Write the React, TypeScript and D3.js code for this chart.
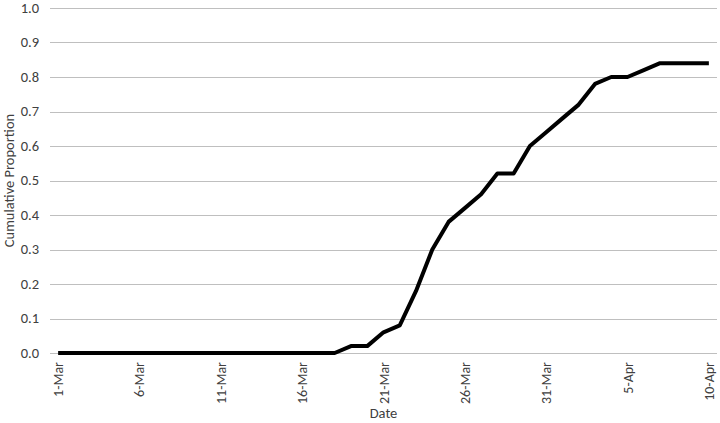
import React, { useRef, useEffect } from "react";
import * as d3 from "d3";

// days from 1-Mar to 10-Apr
const dates: string[] = [
  "1-Mar", "2-Mar", "3-Mar", "4-Mar", "5-Mar", "6-Mar", "7-Mar", "8-Mar", "9-Mar", "10-Mar",
  "11-Mar", "12-Mar", "13-Mar", "14-Mar", "15-Mar", "16-Mar", "17-Mar", "18-Mar", "19-Mar", "20-Mar",
  "21-Mar", "22-Mar", "23-Mar", "24-Mar", "25-Mar", "26-Mar", "27-Mar", "28-Mar", "29-Mar", "30-Mar",
  "31-Mar", "1-Apr", "2-Apr", "3-Apr", "4-Apr", "5-Apr", "6-Apr", "7-Apr", "8-Apr", "9-Apr", "10-Apr",
];

const proportion: number[] = [
  0, 0, 0, 0, 0, 0, 0, 0, 0, 0,
  0, 0, 0, 0, 0, 0, 0, 0, 0.02, 0.02,
  0.06, 0.08, 0.18, 0.30, 0.38, 0.42, 0.46, 0.52, 0.52, 0.60,
  0.64, 0.68, 0.72, 0.78, 0.80, 0.80, 0.82, 0.84, 0.84, 0.84, 0.84,
];

const xTickLabels: string[] = ["1-Mar", "6-Mar", "11-Mar", "16-Mar", "21-Mar", "26-Mar", "31-Mar", "5-Apr", "10-Apr"];
const yTicks: number[] = [0, 0.1, 0.2, 0.3, 0.4, 0.5, 0.6, 0.7, 0.8, 0.9, 1.0];

const App = () => {
  const ref = useRef<SVGSVGElement>(null);

  useEffect(() => {
    const svgWidth = 720;
    const svgHeight = 423;
    const margin = { top: 8, right: 3, bottom: 70, left: 50 };
    const fontColor = "#404040";
    const gridColor = "#bfbfbf";
    const font = "Carlito, 'Liberation Sans', sans-serif";
    const fontSize = "14.5px";

    const svg = d3.select(ref.current)
      .attr("width", svgWidth)
      .attr("height", svgHeight);
    svg.selectAll("*").remove();

    const data = dates.map((d, i) => ({ date: d, value: proportion[i] }));

    // Excel-style category axis: points sit in the middle of each slot
    const xScale = d3.scalePoint<string>()
      .domain(dates)
      .range([margin.left, svgWidth - margin.right])
      .padding(0.5);

    const yScale = d3.scaleLinear()
      .domain([0, 1])
      .range([svgHeight - margin.bottom, margin.top]);

    // grid lines
    svg.append("g")
      .selectAll("line")
      .data(yTicks)
      .join("line")
      .attr("x1", margin.left)
      .attr("x2", svgWidth - margin.right)
      .attr("y1", d => Math.round(yScale(d)) + 0.5)
      .attr("y2", d => Math.round(yScale(d)) + 0.5)
      .attr("stroke", gridColor)
      .attr("stroke-width", 1);

    // Y tick labels
    svg.append("g")
      .selectAll("text")
      .data(yTicks)
      .join("text")
      .attr("x", margin.left - 11)
      .attr("y", d => yScale(d))
      .attr("dy", "0.33em")
      .attr("text-anchor", "end")
      .style("font-family", font)
      .style("font-size", fontSize)
      .style("fill", fontColor)
      .text(d => d3.format(".1f")(d));

    // X tick labels (rotated)
    svg.append("g")
      .selectAll("text")
      .data(xTickLabels)
      .join("text")
      .attr("transform", d => `translate(${xScale(d)! + 5},${svgHeight - margin.bottom + 9}) rotate(-90)`)
      .attr("text-anchor", "end")
      .style("font-family", font)
      .style("font-size", "14px")
      .style("fill", fontColor)
      .text(d => d);

    // axis titles
    svg.append("text")
      .attr("x", (margin.left + svgWidth - margin.right) / 2)
      .attr("y", 418)
      .attr("text-anchor", "middle")
      .style("font-family", font)
      .style("font-size", fontSize)
      .style("fill", fontColor)
      .text("Date");

    svg.append("text")
      .attr("transform", `translate(14,${(margin.top + svgHeight - margin.bottom) / 2}) rotate(-90)`)
      .attr("text-anchor", "middle")
      .style("font-family", font)
      .style("font-size", fontSize)
      .style("fill", fontColor)
      .text("Cumulative Proportion");

    // the line
    const line = d3.line<{ date: string; value: number }>()
      .x(d => xScale(d.date)!)
      .y(d => yScale(d.value));

    svg.append("path")
      .datum(data)
      .attr("fill", "none")
      .attr("stroke", "#000")
      .attr("stroke-width", 4)
      .attr("stroke-linejoin", "round")
      .attr("d", line);
  }, []);

  return (
    <div style={{ position: "absolute", left: 0, top: 0 }}>
      <svg ref={ref} style={{ display: "block" }}></svg>
    </div>
  );
};

export default App;
